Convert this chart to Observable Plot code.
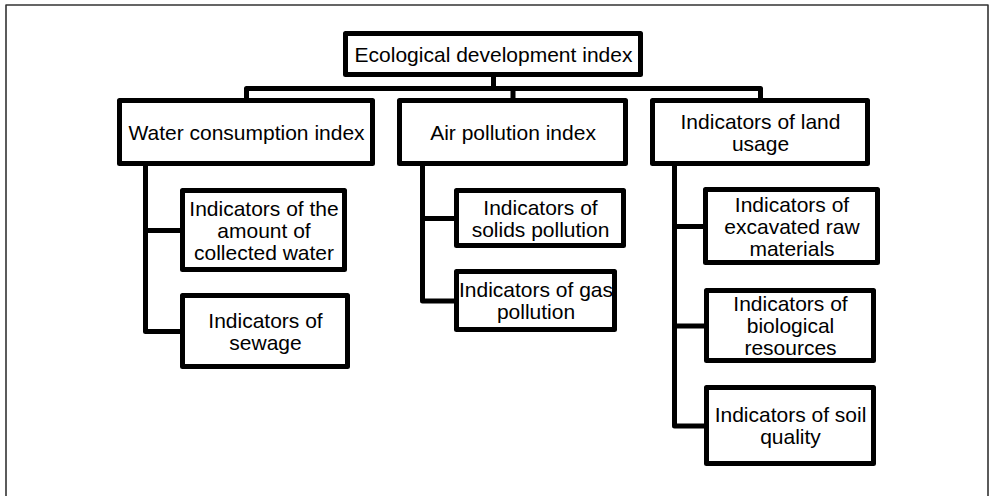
<!DOCTYPE html>
<html>
<head>
<meta charset="utf-8">
<script src="https://cdn.jsdelivr.net/npm/d3@7"></script>
<script src="https://cdn.jsdelivr.net/npm/@observablehq/plot@0.6"></script>
<style>
  html, body { margin: 0; padding: 0; background: #fff; }
  #chart { width: 990px; height: 496px; overflow: hidden; }
</style>
</head>
<body>
<div id="chart"></div>
<script>
// ---- Data: node labels and hierarchy ----
const labels = [
  "Ecological development index",
  "Water consumption index",
  "Air pollution index",
  "Indicators of land\nusage",
  "Indicators of the\namount of\ncollected water",
  "Indicators of\nsewage",
  "Indicators of\nsolids pollution",
  "Indicators of gas\npollution",
  "Indicators of\nexcavated raw\nmaterials",
  "Indicators of\nbiological\nresources",
  "Indicators of soil\nquality"
];
const parents = [null, 0, 0, 0, 1, 1, 2, 2, 3, 3, 3];

// ---- Layout (box geometry, pixel space) kept separate from data ----
const boxX1 = [345.5, 119.5, 399.5, 652.5, 182.5, 182.5, 456.5, 456.5, 705.5, 706.5, 706.5];
const boxX2 = [640.5, 372.5, 625.5, 867.5, 344.5, 347.5, 623.5, 614.5, 877.5, 873.5, 873.5];
const boxY1 = [33.5, 100.5, 100.5, 100.5, 190.5, 295.5, 190.5, 271.5, 189.5, 290.5, 387.5];
const boxY2 = [74.5, 163.5, 163.5, 163.5, 269.5, 366.5, 245.5, 329.5, 262.5, 360.5, 463.5];
const stemX = {0: 493, 1: 145, 2: 422, 3: 674};
const busY = 88;

const nodes = labels.map((label, i) => ({
  id: i, label, parent: parents[i],
  x1: boxX1[i], x2: boxX2[i], y1: boxY1[i], y2: boxY2[i],
  cx: (boxX1[i] + boxX2[i]) / 2, cy: (boxY1[i] + boxY2[i]) / 2
}));

// connector paths
const links = [];
nodes.forEach(n => {
  if (n.parent === null) return;
  const p = nodes[n.parent];
  if (n.parent === 0) {
    // root -> level 1: drop, bus, drop
    links.push({k: n.id, x: stemX[0], y: p.y2});
    links.push({k: n.id, x: stemX[0], y: busY});
    links.push({k: n.id, x: n.cx, y: busY});
    links.push({k: n.id, x: n.cx, y: n.y1});
  } else {
    // level 1 -> leaf: stem down, branch right
    const sx = stemX[n.parent];
    links.push({k: n.id, x: sx, y: p.y2});
    links.push({k: n.id, x: sx, y: n.cy});
    links.push({k: n.id, x: n.x1, y: n.cy});
  }
});

// outer frame (left, top, right; bottom runs off the picture)
const frame = [
  {x: 5.5, y: 520}, {x: 5.5, y: 4.5}, {x: 987.5, y: 4.5}, {x: 987.5, y: 520}
];

const plot = Plot.plot({
  width: 990,
  height: 496,
  margin: 0,
  x: {domain: [0, 990], range: [0, 990], axis: null},
  y: {domain: [0, 496], range: [0, 496], axis: null},
  style: {fontFamily: "'Liberation Sans', Arial, sans-serif", background: "#fff", overflow: "hidden"},
  marks: [
    Plot.line(frame, {x: "x", y: "y", stroke: "#333", strokeWidth: 1.6, clip: true}),
    Plot.line(links, {x: "x", y: "y", z: "k", stroke: "#000", strokeWidth: 5,
      strokeLinejoin: "round", strokeLinecap: "round"}),
    Plot.rect(nodes, {x1: "x1", x2: "x2", y1: "y1", y2: "y2", fill: "#fff",
      stroke: "#000", strokeWidth: 5, strokeLinejoin: "round"}),
    Plot.text(nodes, {x: "cx", y: "cy", text: "label", fontSize: 21,
      lineHeight: 1.05, fill: "#000", fontFamily: "'Liberation Sans', Arial, sans-serif"})
  ]
});
document.getElementById("chart").appendChild(plot);
</script>
</body>
</html>
